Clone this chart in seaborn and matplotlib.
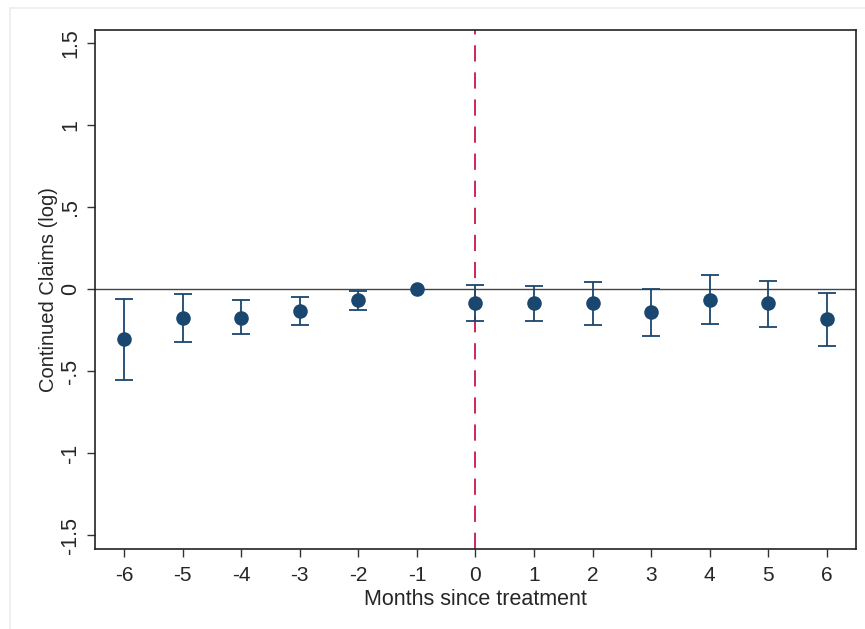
import matplotlib
matplotlib.use("Agg")
import matplotlib.pyplot as plt
import seaborn as sns
import pandas as pd
from matplotlib.lines import Line2D

# ---- data ----
months = [-6, -5, -4, -3, -2, -1, 0, 1, 2, 3, 4, 5, 6]
coef = [-0.305, -0.179, -0.175, -0.136, -0.069, 0.0, -0.087, -0.087, -0.087, -0.142, -0.065, -0.087, -0.183]
ci_low = [-0.553, -0.325, -0.276, -0.220, -0.128, 0.0, -0.197, -0.193, -0.220, -0.285, -0.211, -0.230, -0.346]
ci_high = [-0.060, -0.030, -0.069, -0.049, -0.012, 0.0, 0.024, 0.018, 0.043, 0.000, 0.085, 0.049, -0.022]
ytick_vals = [-1.5, -1, -0.5, 0, 0.5, 1, 1.5]
ytick_labels = ["-1.5", "-1", "-.5", "0", ".5", "1", "1.5"]
xtick_vals = months

df = pd.DataFrame({"month": months, "coef": coef, "lo": ci_low, "hi": ci_high})

sns.set_theme(style="white")
plt.rcParams["font.family"] = ["Liberation Sans", "DejaVu Sans"]

navy = "#1a476f"
fig = plt.figure(figsize=(8.65, 6.29), dpi=100)
ax = fig.add_axes([0.1098, 0.1272, 0.8798, 0.8251])

# faint outer graph-region border
fig.add_artist(Line2D([10/865, 10/865], [0, 1 - 8/629], color="#e8eeee", lw=1.2, transform=fig.transFigure))
fig.add_artist(Line2D([10/865, 1], [1 - 8/629, 1 - 8/629], color="#e8eeee", lw=1.2, transform=fig.transFigure))

ax.axhline(0, color="#444444", lw=1.0, zorder=1)
ax.axvline(0, color="#c8174a", lw=1.3, ls=(0, (9, 6)), zorder=1)

has_ci = [lo != hi for lo, hi in zip(df["lo"], df["hi"])]
sub = df[has_ci]
ax.errorbar(sub["month"], sub["coef"],
            yerr=[sub["coef"] - sub["lo"], sub["hi"] - sub["coef"]],
            fmt="none", ecolor=navy, elinewidth=1.3, capsize=6.5, capthick=1.3, zorder=2)
sns.scatterplot(data=df, x="month", y="coef", ax=ax, color=navy, s=110,
                edgecolor=navy, linewidth=0, zorder=3, legend=False)

ax.set_xlim(-6.5, 6.5)
ax.set_ylim(-1.585, 1.58)
ax.set_xticks(xtick_vals)
ax.set_xticklabels([str(m) for m in xtick_vals], fontsize=15)
ax.set_yticks(ytick_vals)
ax.set_yticklabels(ytick_labels, fontsize=15.5, rotation=90, va="center")
ax.tick_params(axis="both", direction="out", length=6, width=1, color="#333333",
               bottom=True, left=True)
ax.tick_params(axis="x", pad=6)
ax.tick_params(axis="y", pad=4)
ax.set_xlabel("Months since treatment", fontsize=15.5, labelpad=3)
ax.set_ylabel("Continued Claims (log)", fontsize=14.5, labelpad=1.5)

for side in ["left", "bottom", "top", "right"]:
    ax.spines[side].set_color("#222222")
    ax.spines[side].set_linewidth(1.2)
ax.grid(False)

fig.savefig("out.png", dpi=100, facecolor="white")
